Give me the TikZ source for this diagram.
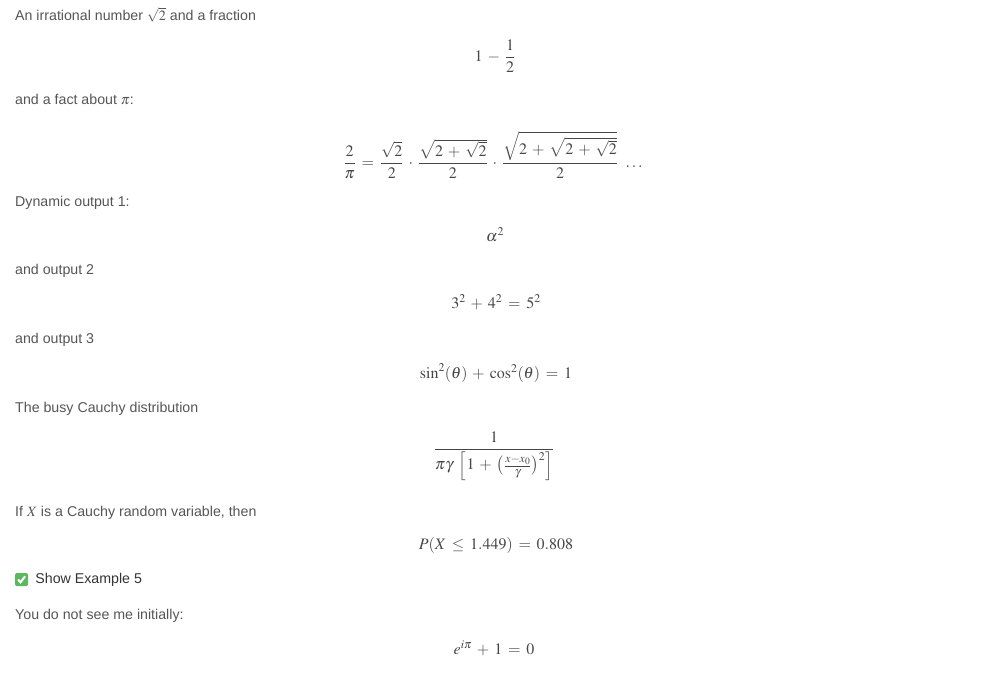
\documentclass[tikz,border=0pt]{standalone}
\usepackage{amsmath,amssymb}
\usepackage{mathptmx}
\usepackage[no-math]{fontspec}
\setmainfont{Liberation Sans}
\usepackage{tikz}
\usetikzlibrary{positioning,calc}
\definecolor{textgrey}{RGB}{85,85,85}
\definecolor{darkgrey}{RGB}{51,51,51}
\definecolor{mathgrey}{RGB}{70,70,70}
\definecolor{checkgreen}{RGB}{92,184,92}
\medmuskip=5.5mu plus 2mu minus 2mu
\thickmuskip=6.5mu plus 3mu

\begin{document}
\begin{tikzpicture}[x=1pt, y=-1pt,
    txt/.style={anchor=base west, inner sep=0pt, text=textgrey, font=\fontsize{14.2}{16}\selectfont},
    eqn/.style={inner sep=0pt, text=mathgrey, font=\fontsize{16}{19}\selectfont},
    tick/.style={rectangle, fill=checkgreen, rounded corners=1.5pt, minimum size=13pt, inner sep=0pt}
]
    \useasboundingbox (0,0) rectangle (992,672);

    \node[txt] (intro) at (15,20) {An irrational number $\sqrt{2}$ and a fraction};
    \node[eqn] (frac) at (495,56) {$\displaystyle 1-\frac{1}{2}$};

    \node[txt] (fact) at (15,104) {and a fact about $\pi$:};
    \node[eqn] (viete) at (493,155) {$\displaystyle \frac{2}{\pi}=\frac{\sqrt{2}}{2}\cdot\frac{\sqrt{2+\sqrt{2}}}{2}\cdot\frac{\sqrt{2+\sqrt{2+\sqrt{2}}}}{2}\;\ldots$};

    \node[txt] (dyn1) at (15,206) {Dynamic output 1:};
    \node[eqn] (alpha) at (495,235) {$\alpha^2$};

    \node[txt] (dyn2) at (15,274) {and output 2};
    \node[eqn] (pyth) at (496,302) {$3^2+4^2=5^2$};

    \node[txt] (dyn3) at (15,343) {and output 3};
    \node[eqn] (trig) at (496,373) {$\sin^2(\theta)+\cos^2(\theta)=1$};

    \node[txt] (busy) at (15,412) {The busy Cauchy distribution};
    \node[eqn] (cauchy) at (494,456) {$\displaystyle \frac{1}{\pi\gamma\;\Bigl[1+\bigl(\tfrac{x-x_0}{\gamma}\bigr)^2\Bigr]}$};

    \node[txt] (rv) at (15,516) {If $X$ is a Cauchy random variable, then};
    \node[eqn] (prob) at (496,545) {$P(X\le 1.449)=0.808$};

    % checkbox
    \node[tick] (box) at (21.5,579.5) {};
    \draw[white, line width=2pt] ($(box.center)+(-3.5,0)$) -- ($(box.center)+(-1,2.8)$) -- ($(box.center)+(3.6,-3.2)$);
    \node[txt, anchor=west, text=darkgrey, right=7pt of box] (show) {Show Example 5};

    \node[txt] (hidden) at (15,619) {You do not see me initially:};
    \node[eqn] (euler) at (494,648) {$e^{i\pi}+1=0$};
\end{tikzpicture}
\end{document}
